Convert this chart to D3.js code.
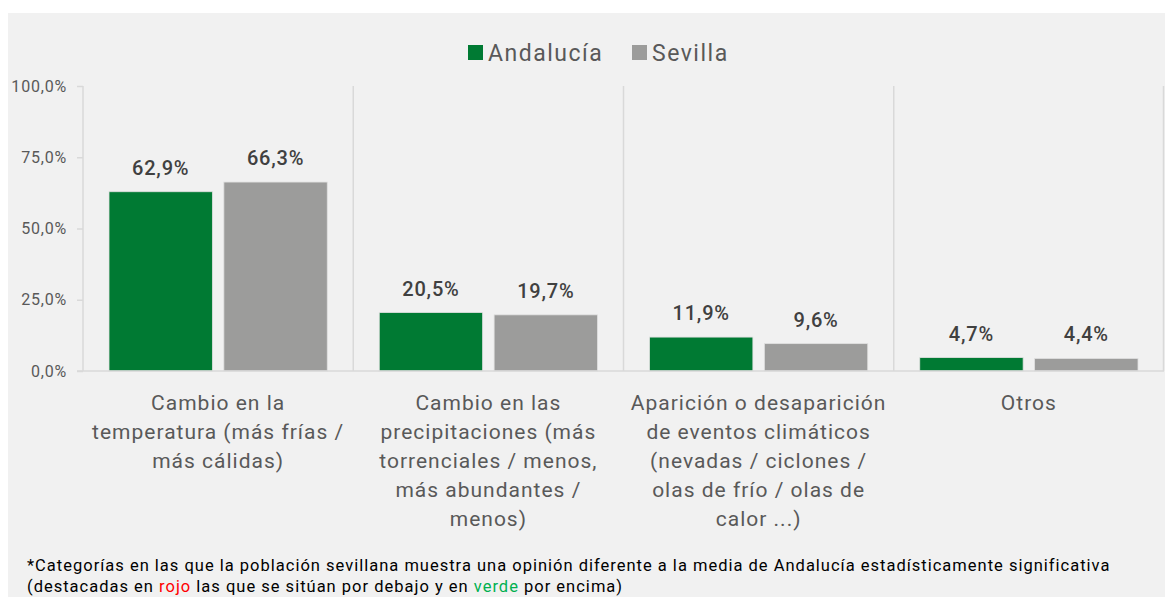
<!DOCTYPE html>
<html>
<head>
<meta charset="utf-8">
<script src="https://cdn.jsdelivr.net/npm/d3@7"></script>
<style>
  body { margin: 0; background: #fff; font-family: Roboto, 'DejaVu Sans Condensed', sans-serif; }
</style>
</head>
<body>
<script>
'use strict'

var categories = [
  ['Cambio en la', 'temperatura (más frías /', 'más cálidas)'],
  ['Cambio en las', 'precipitaciones (más', 'torrenciales / menos,', 'más abundantes /', 'menos)'],
  ['Aparición o desaparición', 'de eventos climáticos', '(nevadas / ciclones /', 'olas de frío / olas de', 'calor ...)'],
  ['Otros']
]
var seriesNames = ['Andalucía', 'Sevilla']
var andalucia = [62.9, 20.5, 11.9, 4.7]
var sevilla = [66.3, 19.7, 9.6, 4.4]
var yTicks = [0, 25, 50, 75, 100]
var colors = ['#007a33', '#9c9c9b']

var width = 1165
var height = 597
var margin = { top: 86, right: 1, bottom: 226, left: 83 }

var svg = d3.select('body').append('svg')
  .attr('width', width)
  .attr('height', height)

svg.append('rect')
  .attr('x', 8).attr('y', 13)
  .attr('width', width - 8).attr('height', height - 13)
  .attr('fill', '#f1f1f1')

var x = d3.scaleBand()
  .domain(d3.range(categories.length))
  .range([margin.left, width - margin.right])

var xs = d3.scaleBand()
  .domain(d3.range(seriesNames.length))
  .range([26, x.bandwidth() - 26])
  .paddingInner(0.1)

var y = d3.scaleLinear()
  .domain([0, 100])
  .range([height - margin.bottom, margin.top])

var fmt = function (v) { return d3.format('.1f')(v).replace('.', ',') + '%' }

// separators
svg.append('g').selectAll('line')
  .data(d3.range(categories.length + 1))
  .enter().append('line')
  .attr('x1', function (i) { return i < categories.length ? x(i) : x.range()[1] - 0.5 })
  .attr('x2', function (i) { return i < categories.length ? x(i) : x.range()[1] - 0.5 })
  .attr('y1', y(100))
  .attr('y2', y(0))
  .attr('stroke', '#d9d9d9')
  .attr('stroke-width', 1.5)

var yAxis = svg.append('g')
  .attr('transform', 'translate(' + margin.left + ',0)')
  .call(d3.axisLeft(y).tickValues(yTicks).tickFormat(fmt).tickSize(6).tickPadding(10))
yAxis.select('.domain').remove()
yAxis.selectAll('line').attr('stroke', '#d9d9d9').attr('stroke-width', 1.5)
yAxis.selectAll('text')
  .attr('fill', '#595959')
  .style('font-size', '16px')
  .style('letter-spacing', '0.8px')
  .style('font-family', 'Roboto, sans-serif')

var rows = categories.map(function (c, i) { return { i: i, values: [andalucia[i], sevilla[i]] } })

var group = svg.append('g').selectAll('g')
  .data(rows)
  .enter().append('g')
  .attr('transform', function (d) { return 'translate(' + x(d.i) + ',0)' })

group.selectAll('rect')
  .data(function (d) { return d.values })
  .enter().append('rect')
  .attr('x', function (v, j) { return xs(j) })
  .attr('width', xs.bandwidth())
  .attr('y', function (v) { return y(v) })
  .attr('height', function (v) { return y(0) - y(v) })
  .attr('fill', function (v, j) { return colors[j] })
  .attr('stroke', '#e0e0e0')
  .attr('stroke-width', 0.8)

group.selectAll('text')
  .data(function (d) { return d.values })
  .enter().append('text')
  .attr('x', function (v, j) { return xs(j) + xs.bandwidth() / 2 })
  .attr('y', function (v) { return y(v) - 17 })
  .attr('text-anchor', 'middle')
  .attr('fill', '#404040')
  .style('font-size', '20px')
  .style('letter-spacing', '0.8px')
  .style('font-weight', 500)
  .text(fmt)

// baseline
svg.append('line')
  .attr('x1', margin.left - 6).attr('x2', width - margin.right)
  .attr('y1', y(0)).attr('y2', y(0))
  .attr('stroke', '#d9d9d9')
  .attr('stroke-width', 1.5)

// category labels
svg.append('g').selectAll('text')
  .data(categories)
  .enter().append('text')
  .attr('x', function (d, i) { return x(i) + x.bandwidth() / 2 })
  .attr('y', 410)
  .attr('text-anchor', 'middle')
  .attr('fill', '#595959')
  .style('font-size', '21px')
  .style('letter-spacing', '1px')
  .selectAll('tspan')
  .data(function (d) { return d })
  .enter().append('tspan')
  .attr('x', function () { return d3.select(this.parentNode).attr('x') })
  .attr('dy', function (d, k) { return k === 0 ? 0 : 29 })
  .text(function (d) { return d })

// legend
var legend = svg.append('g').attr('transform', 'translate(468,0)')
var legendX = [0, 164]
seriesNames.forEach(function (name, j) {
  var lg = legend.append('g').attr('transform', 'translate(' + legendX[j] + ',0)')
  lg.append('rect')
    .attr('x', 0).attr('y', 45)
    .attr('width', 15).attr('height', 15)
    .attr('fill', colors[j])
  lg.append('text')
    .attr('x', 20).attr('y', 61)
    .attr('fill', '#595959')
    .style('font-size', '23px')
    .style('letter-spacing', '1.5px')
    .text(name)
})

// footnote
var note = svg.append('g').attr('fill', '#000').style('font-size', '16.5px').style('letter-spacing', '1px')
note.append('text')
  .attr('x', 27).attr('y', 571)
  .text('*Categorías en las que la población sevillana muestra una opinión diferente a la media de Andalucía estadísticamente significativa')
var n2 = note.append('text').attr('x', 27).attr('y', 592)
n2.append('tspan').text('(destacadas en ')
n2.append('tspan').attr('fill', '#ff0000').text('rojo')
n2.append('tspan').text(' las que se sitúan por debajo y en ')
n2.append('tspan').attr('fill', '#00b050').text('verde')
n2.append('tspan').text(' por encima)')
</script>
</body>
</html>
